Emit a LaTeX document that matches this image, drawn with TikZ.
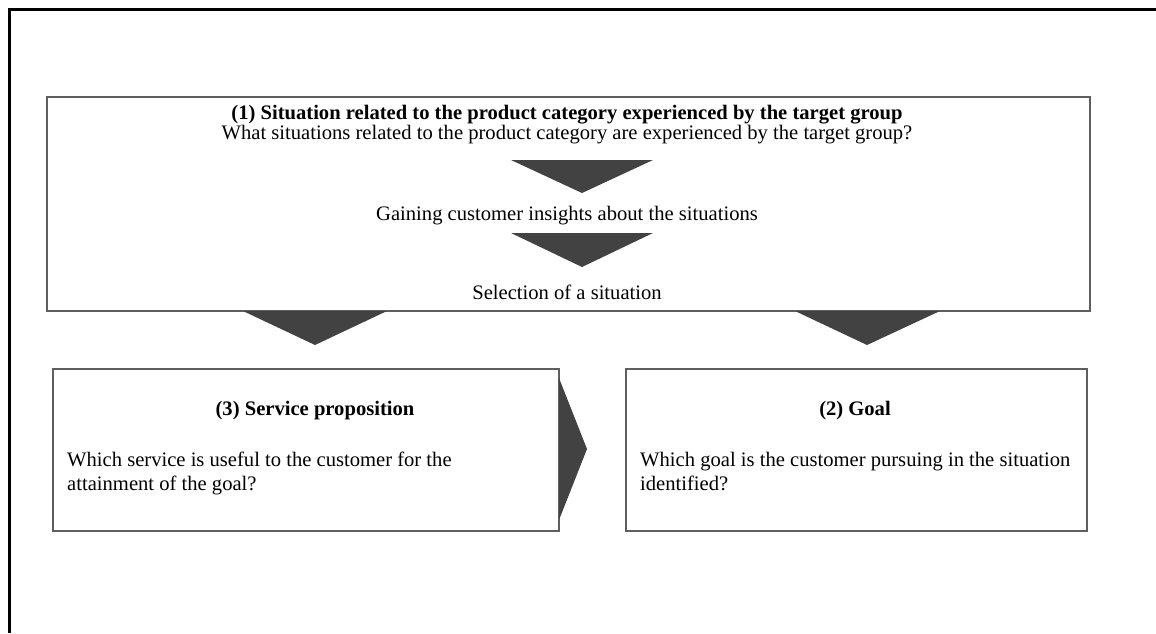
\documentclass[tikz,border=0pt]{standalone}
\usepackage{fontspec}
\setmainfont{Liberation Serif}
\definecolor{boxgray}{RGB}{95,95,95}
\definecolor{arrowgray}{RGB}{66,66,66}

\begin{document}
\begin{tikzpicture}[x=1pt,y=-1pt,
    box/.style={draw=boxgray,line width=1.6pt,anchor=north west,inner sep=0pt},
    txt/.style={font=\fontsize{20.6}{24}\selectfont,inner sep=0pt},
    head/.style={font=\fontsize{20.6}{24}\selectfont\bfseries,inner sep=0pt},
    tri/.style={fill=arrowgray}]
    \useasboundingbox (0,0) rectangle (1156,633);
    % frame
    \draw[line width=3pt] (9,633) -- (9,9) -- (1156,9);
    % boxes
    \node[box,minimum width=1043pt,minimum height=214pt] (sit) at (46,96) {};
    \node[box,minimum width=506pt,minimum height=162pt] (serv) at (52,368) {};
    \node[box,minimum width=461pt,minimum height=162pt] (goal) at (625,368) {};
    % arrows
    \fill[tri] (511,160) -- (653,160) -- (582,193) -- cycle;
    \fill[tri] (511,233) -- (653,233) -- (582,267) -- cycle;
    \fill[tri] (243,311) -- (387,311) -- (315,345) -- cycle;
    \fill[tri] (795,311) -- (940,311) -- (867,345) -- cycle;
    \fill[tri] (559,378) -- (587,449) -- (559,520) -- cycle;
    % texts
    \node[head] (t1) at (567,115) {(1) Situation related to the product category experienced by the target group};
    \node[txt] (q1) at (567,135) {What situations related to the product category are experienced by the target group?};
    \node[txt] (g1) at (567,216) {Gaining customer insights about the situations};
    \node[txt] (s1) at (567,292) {Selection of a situation};
    \node[head] (t3) at (315,411) {(3) Service proposition};
    \node[txt,anchor=north west,align=left] (q3) at (67,452) {Which service is useful to the customer for the\\attainment of the goal?};
    \node[head] (t2) at (855,411) {(2) Goal};
    \node[txt,anchor=north west,align=left] (q2) at (640,452) {Which goal is the customer pursuing in the situation\\identified?};
\end{tikzpicture}
\end{document}
